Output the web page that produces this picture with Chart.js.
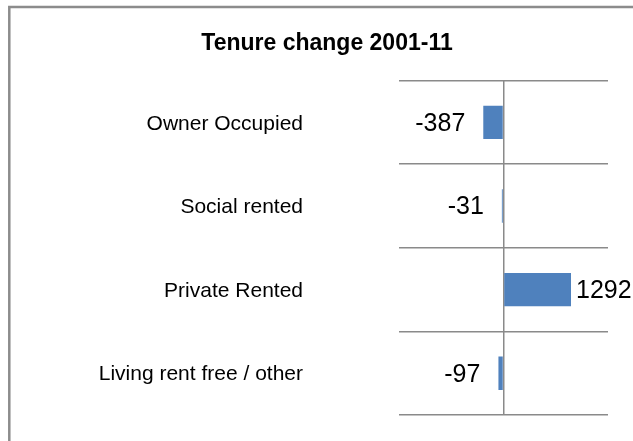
<!DOCTYPE html>
<html>
<head>
<meta charset="utf-8">
<script src="https://cdn.jsdelivr.net/npm/chart.js@4/dist/chart.umd.min.js"></script>
<style>
html,body{margin:0;padding:0;background:#fff;}
canvas{display:block;}
</style>
</head>
<body>
<canvas id="c" width="633" height="441"></canvas>
<script>
const chartTitle = "Tenure change 2001-11";
const categories = ["Owner Occupied", "Social rented", "Private Rented", "Living rent free / other"];
const changeValues = [-387, -31, 1292, -97];
const axisMin = -2000;
const axisMax = 2000;

const FONT = "'Liberation Sans', Arial, Helvetica, sans-serif";
const GRID = "#8a8a8a";

const frame = {
  id: "frame",
  beforeDraw(chart) {
    const ctx = chart.ctx;
    ctx.save();
    ctx.fillStyle = "#fff";
    ctx.fillRect(0, 0, chart.width, chart.height);
    ctx.strokeStyle = "#8c8c8c";
    ctx.lineWidth = 2.5;
    ctx.strokeRect(9.3, 7, 800, 600);
    ctx.restore();
  }
};

const valueLabels = {
  id: "valueLabels",
  afterDatasetsDraw(chart) {
    const ctx = chart.ctx;
    const meta = chart.getDatasetMeta(0);
    ctx.save();
    ctx.font = "25px " + FONT;
    ctx.fillStyle = "#000";
    ctx.textBaseline = "middle";
    meta.data.forEach((bar, i) => {
      const v = chart.data.datasets[0].data[i];
      if (v < 0) {
        ctx.textAlign = "right";
        ctx.fillText(String(v), bar.x - 18, bar.y + 1.5);
      } else {
        ctx.textAlign = "left";
        ctx.fillText(String(v), bar.x + 5, bar.y + 1.5);
      }
    });
    ctx.restore();
  }
};

new Chart(document.getElementById("c"), {
  type: "bar",
  data: {
    labels: categories,
    datasets: [{
      data: changeValues,
      backgroundColor: "#4F81BD",
      borderWidth: 0,
      categoryPercentage: 1,
      barPercentage: 0.4
    }]
  },
  plugins: [frame, valueLabels],
  options: {
    indexAxis: "y",
    responsive: false,
    animation: false,
    devicePixelRatio: 1,
    layout: { padding: { left: 46, right: 25, top: 0, bottom: 26 } },
    plugins: {
      legend: { display: false },
      tooltip: { enabled: false },
      title: {
        display: true,
        text: chartTitle,
        color: "#000",
        font: { family: FONT, size: 23, weight: "bold", lineHeight: 1.2 },
        padding: { top: 29.5, bottom: 23.5 }
      }
    },
    scales: {
      x: {
        min: axisMin,
        max: axisMax,
        ticks: { display: false, stepSize: 2000 },
        border: { display: false },
        grid: {
          drawTicks: false,
          lineWidth: 1.5,
          color: (c) => (c.tick && c.tick.value === 0 ? GRID : "rgba(0,0,0,0)")
        },
        afterFit(scale) { scale.paddingLeft = 0; scale.paddingRight = 0; }
      },
      y: {
        offset: true,
        border: { display: false },
        grid: { offset: true, drawTicks: false, color: GRID, lineWidth: 1.5 },
        ticks: {
          color: "#000",
          font: { family: FONT, size: 21 },
          padding: 96,
          labelOffset: 1.5
        },
        afterFit(scale) {
          scale.width = 353;
          scale.paddingTop = 0;
          scale.paddingBottom = 0;
        }
      }
    }
  }
});
</script>
</body>
</html>
